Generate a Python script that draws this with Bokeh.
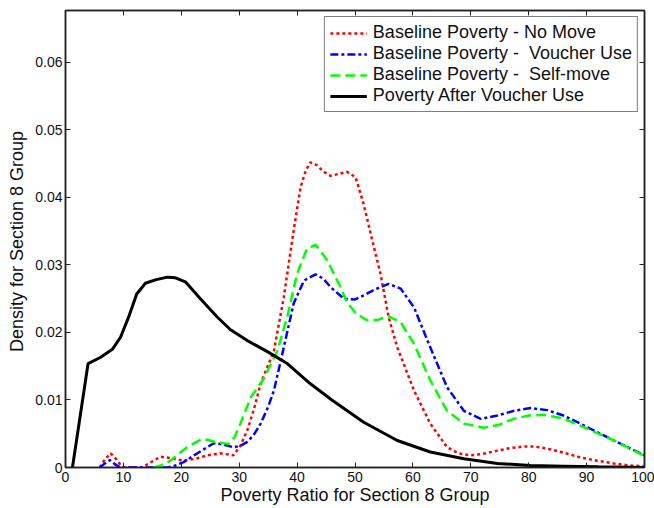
from bokeh.plotting import figure
from bokeh.models import LinearAxis, FixedTicker, Range1d, Legend, LegendItem
from bokeh.embed import file_html
from bokeh.resources import INLINE

# ---- data ----
nomove_x = [5.9, 6.8, 7.8, 8.8, 9.8, 13.2, 14.8, 16.4, 18.1, 20.4, 22.5, 24.5, 26.8, 29, 30.2, 31.4, 32.5, 33.7, 36,
            37.7, 39.4, 40.6, 41.5, 42.3, 43.4, 44.6, 45.8, 47.2, 48.6, 50.1, 51.5, 53, 54.4, 55.8, 57.3, 60.2, 63,
            65.9, 67.9, 69.9, 72, 74.6, 77, 79.2, 81, 83.2, 86, 88.9, 91.8, 94.7, 97.5, 100]
nomove_y = [0, 0.0012, 0.0021, 0.0012, 0, 0, 0.0008, 0.0016, 0.0014, 0.0010, 0.0013, 0.0018, 0.0021, 0.0018, 0.0032,
            0.0055, 0.0085, 0.0124, 0.0173, 0.0252, 0.0351, 0.0415, 0.0440, 0.0452, 0.0448, 0.0438, 0.0432, 0.0435,
            0.0438, 0.0430, 0.0390, 0.0336, 0.0287, 0.0223, 0.0178, 0.0114, 0.0065, 0.0030, 0.0021, 0.0018, 0.0020,
            0.0025, 0.0029, 0.0031, 0.0031, 0.0028, 0.0022, 0.0015, 0.0010, 0.0006, 0.0003, 0.0002]

voucher_x = [5.9, 6.8, 7.65, 8.5, 9.4, 17.6, 19, 20.4, 22.2, 23.9, 25.6, 27.3, 29, 30.2, 31.4, 32.5, 33.7, 35, 36,
             37.7, 39.4, 41.2, 43.2, 44.5, 45.8, 48.1, 50, 51.5, 53.5, 55.8, 57.9, 60.2, 63, 65.9, 68.8, 71.7, 74.6,
             77.5, 80.3, 83.2, 86, 88.9, 94.7, 100]
voucher_y = [0, 0.0006, 0.0011, 0.0005, 0, 0, 0.0003, 0.0008, 0.0018, 0.0027, 0.0036, 0.0034, 0.0030, 0.0032, 0.0038,
             0.0048, 0.0065, 0.0090, 0.0114, 0.0178, 0.0243, 0.0277, 0.0286, 0.0280, 0.0267, 0.0250, 0.0249, 0.0255,
             0.0264, 0.0272, 0.0265, 0.0237, 0.0178, 0.0119, 0.0084, 0.0072, 0.0077, 0.0084, 0.0088, 0.0085, 0.0077,
             0.0065, 0.0040, 0.0018]

self_x = [15.2, 16.5, 18.1, 19.5, 21, 23.3, 24.5, 26.2, 28.2, 29.2, 30.2, 32, 34.2, 36.6, 38.3, 40, 41.7, 43.2, 45.2,
          47.5, 48.6, 50.2, 52.1, 54, 55.8, 57.9, 60.2, 63, 65.9, 68.8, 72.2, 74.8, 77.4, 80, 82.6, 85.8, 88.9, 94.7,
          100]
self_y = [0, 0.0003, 0.0010, 0.0020, 0.0030, 0.0041, 0.0041, 0.0037, 0.0035, 0.0045, 0.0065, 0.0104, 0.0131, 0.0173,
          0.0223, 0.0287, 0.0324, 0.0330, 0.0307, 0.0267, 0.0245, 0.0228, 0.0218, 0.0219, 0.0224, 0.0215, 0.0183,
          0.0129, 0.0084, 0.0065, 0.0059, 0.0063, 0.0072, 0.0077, 0.0078, 0.0073, 0.0062, 0.0040, 0.0017]

after_x = [1.2, 3.9, 6, 8.1, 9.5, 11, 12.3, 13.8, 15.5, 17.6, 19, 20.7, 23.3, 26.2, 28.5, 31.4, 34.8, 38.3, 42.3, 46,
           51.5, 57.3, 63, 68.8, 74.6, 80.3, 86, 92, 100]
after_y = [0, 0.0154, 0.0163, 0.0175, 0.0193, 0.0225, 0.0257, 0.0273, 0.0278, 0.0282, 0.0281, 0.0275, 0.0250, 0.0223,
           0.0204, 0.0188, 0.0172, 0.0154, 0.0124, 0.0100, 0.0067, 0.0040, 0.0023, 0.0013, 0.0006, 0.0003, 0.0002,
           0.0001, 0]

series_labels = ["Baseline Poverty - No Move", "Baseline Poverty -  Voucher Use",
                 "Baseline Poverty -  Self-move", "Poverty After Voucher Use"]

x_ticks = [0, 10, 20, 30, 40, 50, 60, 70, 80, 90, 100]
x_tick_labels = ["0", "10", "20", "30", "40", "50", "60", "70", "80", "90", "100"]
y_ticks = [0, 0.01, 0.02, 0.03, 0.04, 0.05, 0.06]
y_tick_labels = ["0", "0.01", "0.02", "0.03", "0.04", "0.05", "0.06"]

x_label = "Poverty Ratio for Section 8 Group"
y_label = "Density  for Section 8 Group"

FONT = "Liberation Sans"

p = figure(width=654, height=508, output_backend="svg", toolbar_location=None,
           x_range=Range1d(0, 100), y_range=Range1d(0, 0.0677),
           min_border_left=65, min_border_right=10, min_border_top=10, min_border_bottom=41)
p.background_fill_color = "white"
p.border_fill_color = "white"
p.grid.visible = False
p.outline_line_color = "#222222"
p.outline_line_width = 1.5

r1 = p.line(nomove_x, nomove_y, line_color="#FF0000", line_width=2.5, line_dash="3 3")
r2 = p.line(voucher_x, voucher_y, line_color="#0000FF", line_width=2.5, line_dash="8 3 3 3")
r3 = p.line(self_x, self_y, line_color="#00FF00", line_width=2.5, line_dash="10 5")
r4 = p.line(after_x, after_y, line_color="black", line_width=3)

def style_axis(ax, labels_on=True):
    ax.axis_line_color = "#222222"
    ax.axis_line_width = 1.5
    ax.major_tick_in = 5
    ax.major_tick_out = 0
    ax.minor_tick_line_color = None
    ax.major_tick_line_color = "#222222"
    ax.major_label_text_font = FONT
    if labels_on:
        ax.major_label_text_font_size = "14px"
        ax.major_label_text_color = "#111111"
    else:
        ax.major_label_text_font_size = "1px"
        ax.major_label_text_color = None
        ax.major_label_standoff = 0

xa = p.xaxis[0]
xa.ticker = FixedTicker(ticks=x_ticks)
xa.major_label_overrides = {t: l for t, l in zip(x_ticks, x_tick_labels)}
style_axis(xa)
xa.major_label_standoff = 4
xa.axis_label = x_label
xa.axis_label_text_font = FONT
xa.axis_label_text_font_size = "18px"
xa.axis_label_text_font_style = "normal"
xa.axis_label_text_color = "#111111"
xa.axis_label_standoff = 0

ya = p.yaxis[0]
ya.ticker = FixedTicker(ticks=y_ticks)
ya.major_label_overrides = {t: l for t, l in zip(y_ticks, y_tick_labels)}
style_axis(ya)
ya.major_label_standoff = 3
ya.axis_label = y_label
ya.axis_label_text_font = FONT
ya.axis_label_text_font_size = "18px"
ya.axis_label_text_font_style = "normal"
ya.axis_label_text_color = "#111111"
ya.axis_label_standoff = 5

top = LinearAxis(ticker=FixedTicker(ticks=x_ticks))
style_axis(top, labels_on=False)
p.add_layout(top, "above")
right = LinearAxis(ticker=FixedTicker(ticks=y_ticks))
style_axis(right, labels_on=False)
p.add_layout(right, "right")

legend = Legend(items=[LegendItem(label=series_labels[0], renderers=[r1]),
                       LegendItem(label=series_labels[1], renderers=[r2]),
                       LegendItem(label=series_labels[2], renderers=[r3]),
                       LegendItem(label=series_labels[3], renderers=[r4])],
                location="top_right")
legend.label_text_font = FONT
legend.label_text_font_size = "18px"
legend.label_text_color = "#111111"
legend.label_height = 20
legend.glyph_height = 20
legend.glyph_width = 37
legend.spacing = 0
legend.padding = 5
legend.margin = 6
legend.label_standoff = 6
legend.border_line_color = "black"
legend.border_line_width = 1
legend.background_fill_alpha = 1
p.add_layout(legend)

open("out.html", "w").write(file_html(p, INLINE))
